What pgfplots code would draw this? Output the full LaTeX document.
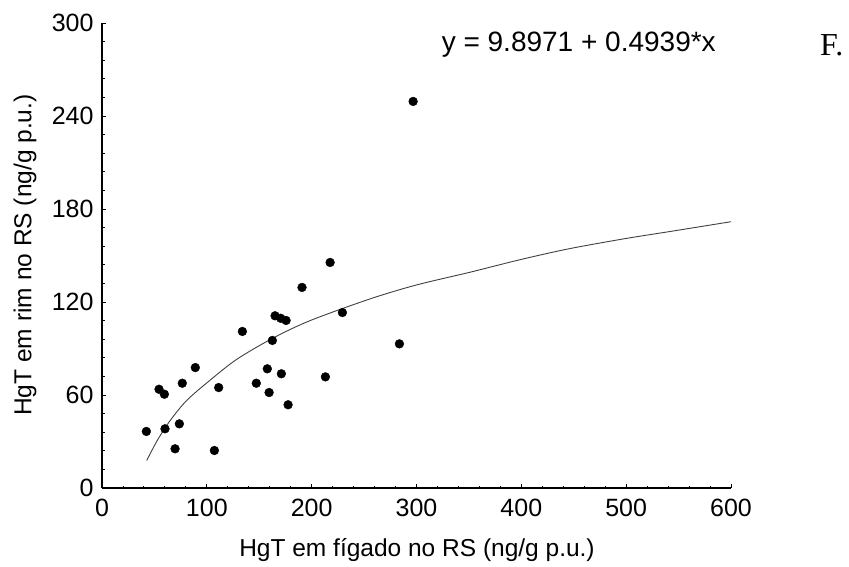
\documentclass[border=0pt]{standalone}
\usepackage{pgfplots}
\pgfplotsset{compat=1.18}
\usepackage{fontspec}
\setmainfont{Liberation Sans}
\newfontfamily\serifF{Liberation Serif}
\begin{document}
\begin{tikzpicture}[x=1pt,y=1pt]
\useasboundingbox (0,0) rectangle (849,566);
\begin{axis}[
  at={(102pt,78pt)}, anchor=south west,
  scale only axis, width=629pt, height=465pt,
  xmin=0, xmax=600, ymin=0, ymax=300,
  axis x line*=bottom, axis y line*=left,
  axis line style={line width=1.2pt, black},
  xtick={0,100,...,600}, ytick={0,60,...,300},
  minor x tick num=4, minor y tick num=4,
  tick align=inside,
  major tick length=4pt, minor tick length=2.5pt,
  tick style={line width=0.9pt, black},
  /pgf/number format/assume math mode=true,
  ticklabel style={font=\fontsize{25}{27}\selectfont},
  xticklabel style={yshift=-8pt},
  yticklabel style={xshift=-5pt},
  xlabel={HgT em fígado no RS (ng/g p.u.)},
  ylabel={HgT em rim no RS (ng/g p.u.)},
  label style={font=\fontsize{24.5}{26}\selectfont},
  xlabel style={at={(axis description cs:0.5008,-0.134)}, anchor=center},
  ylabel style={at={(axis description cs:-0.1224,0.501)}, anchor=center},
  clip=false,
]
\addplot[only marks, mark=*, mark size=4.4pt, black] coordinates {
(42.3,36.5) (54.4,63.7) (59.5,60.5) (60.1,38.2) (69.7,25.3) (73.8,41.4)
(76.6,67.6) (89.0,77.7) (107.2,24.2) (111.3,64.8) (133.9,101.0) (147.2,67.6)
(157.7,76.9) (159.4,61.6) (162.5,95.2) (165.1,111.1) (170.5,109.5) (171.1,73.7)
(175.6,108.1) (177.5,53.7) (190.8,129.4) (213.1,71.7) (217.6,145.5) (229.3,113.2)
(283.7,93.0) (296.8,249.4)
};
\addplot[no marks, line width=0.9pt, black!75, smooth] coordinates {
(42.6,17.7) (53,31) (65,43.5) (80.8,56.5) (103,69.5) (128.5,83)
(162.5,96.5) (198.5,108) (255.7,122) (300,131) (351,139.2) (400,147.5)
(446.6,154.5) (500,161) (542,165.5) (600,171.8)
};
\node[font=\fontsize{28}{30}\selectfont] at (axis description cs:0.758,0.953) {y = 9.8971 + 0.4939*x};
\node[font=\serifF\fontsize{32}{34}\selectfont] at (axis description cs:1.160,0.953) {F.};
\end{axis}
\end{tikzpicture}
\end{document}
